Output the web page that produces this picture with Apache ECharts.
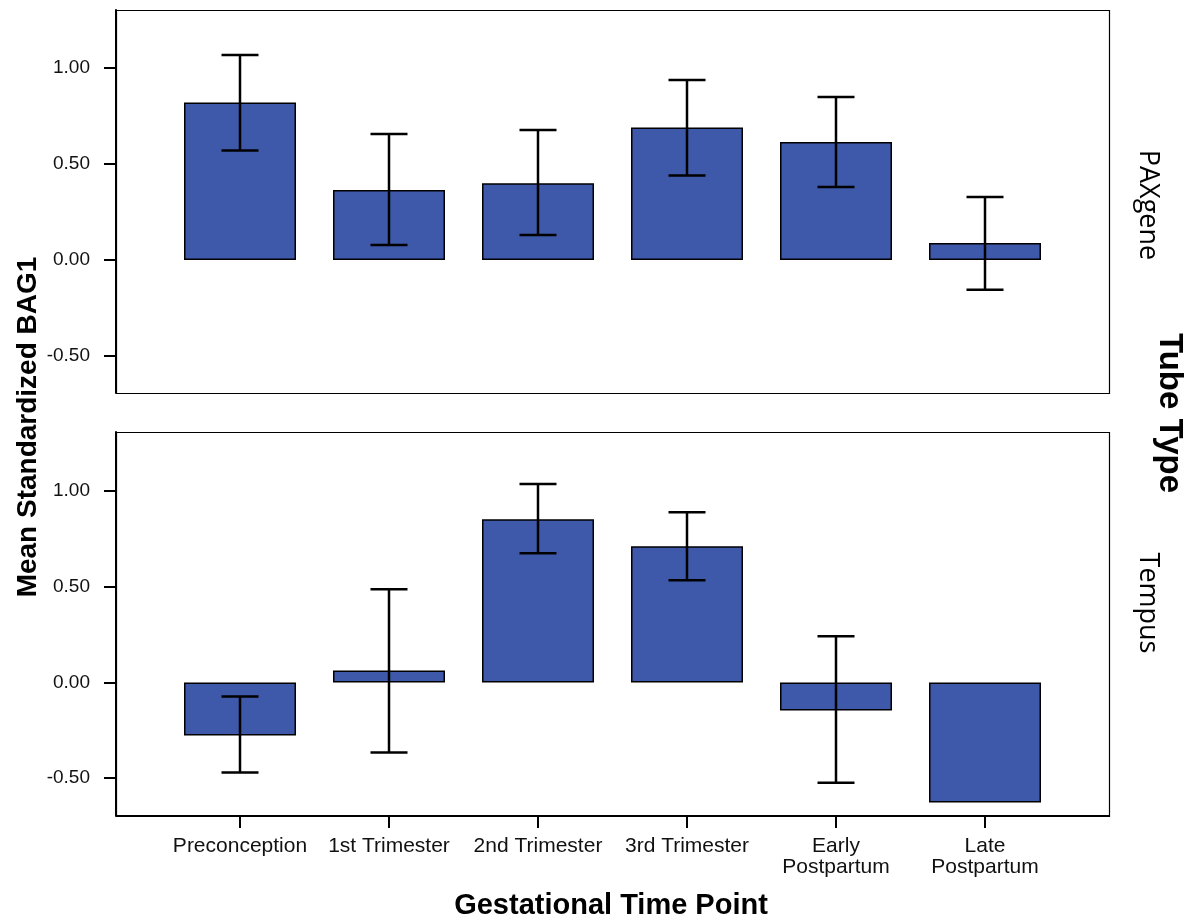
<!DOCTYPE html>
<html>
<head>
<meta charset="utf-8">
<script src="https://cdn.jsdelivr.net/npm/echarts@6/dist/echarts.min.js"></script>
<style>
html,body{margin:0;padding:0;background:#fff;}
#chart{width:1187px;height:917px;}
</style>
</head>
<body>
<div id="chart"></div>
<script>
// ---- data ----
const categories = ['Preconception', '1st Trimester', '2nd Trimester', '3rd Trimester', 'Early\nPostpartum', 'Late\nPostpartum'];
const paxMean = [0.82, 0.365, 0.40, 0.69, 0.615, 0.088];
const paxLow = [0.57, 0.078, 0.13, 0.44, 0.38, -0.155];
const paxHigh = [1.068, 0.656, 0.677, 0.937, 0.849, 0.328];
const tempusMean = [-0.277, 0.063, 0.853, 0.712, -0.147, -0.628];
const tempusLow = [-0.471, -0.366, 0.675, 0.534, -0.524, null];
const tempusHigh = [-0.073, 0.487, 1.037, 0.89, 0.241, null];
const yTicks = [-0.5, 0, 0.5, 1.0];
const panelNames = ['PAXgene', 'Tempus'];
const xTitle = 'Gestational Time Point';
const yTitle = 'Mean Standardized BAG1';
const facetTitle = 'Tube Type';

// ---- layout ----
const frameLeft = 116, frameRight = 1109;
const panels = [{top: 10, bottom: 393}, {top: 432, bottom: 816}];
const inset = 49.5;
const FONT = 'Liberation Sans, Arial, sans-serif';

function errData(lo, hi) {
  const out = [];
  lo.forEach((v, i) => { if (v !== null && hi[i] !== null) out.push([i, v, hi[i]]); });
  return out;
}
function renderErr(params, api) {
  const x = api.value(0);
  const p1 = api.coord([x, api.value(1)]);
  const p2 = api.coord([x, api.value(2)]);
  const hw = 18.5;
  const st = {stroke: '#000', lineWidth: 2.5};
  return {type: 'group', children: [
    {type: 'line', shape: {x1: p1[0], y1: p1[1], x2: p2[0], y2: p2[1]}, style: st},
    {type: 'line', shape: {x1: p1[0] - hw, y1: p1[1], x2: p1[0] + hw, y2: p1[1]}, style: st},
    {type: 'line', shape: {x1: p2[0] - hw, y1: p2[1], x2: p2[0] + hw, y2: p2[1]}, style: st}
  ]};
}

const grids = panels.map(p => ({
  left: frameLeft + inset,
  width: (frameRight - frameLeft) - 2 * inset,
  top: p.top,
  height: p.bottom - p.top
}));

const yRanges = [[-0.693, 1.302], [-0.698, 1.309]];

const xAxes = [0, 1].map(i => ({
  gridIndex: i,
  type: 'category',
  data: categories,
  boundaryGap: true,
  show: i === 1,
  position: 'bottom',
  axisLine: {show: false, onZero: false},
  axisTick: {show: true, alignWithLabel: true, length: 12, lineStyle: {color: '#000', width: 2}},
  axisLabel: {fontSize: 21, color: '#111', fontFamily: FONT, margin: 20, lineHeight: 21, verticalAlign: 'top', interval: 0},
  splitLine: {show: false}
}));

const yAxes = [0, 1].map(i => ({
  gridIndex: i,
  type: 'value',
  min: yRanges[i][0],
  max: yRanges[i][1],
  offset: inset,
  axisLine: {show: true, lineStyle: {color: '#000', width: 2}},
  axisTick: {show: true, length: 12, customValues: yTicks, lineStyle: {color: '#000', width: 2}},
  axisLabel: {customValues: yTicks, formatter: v => v.toFixed(2), fontSize: 19, color: '#111', fontFamily: FONT, margin: 26},
  splitLine: {show: false}
}));

const barStyle = {color: '#3E58AA', borderColor: '#000', borderWidth: 1.5};

const series = [
  {type: 'bar', xAxisIndex: 0, yAxisIndex: 0, data: paxMean, barWidth: 112, itemStyle: barStyle, z: 2},
  {type: 'bar', xAxisIndex: 1, yAxisIndex: 1, data: tempusMean, barWidth: 112, itemStyle: barStyle, z: 2},
  {type: 'custom', xAxisIndex: 0, yAxisIndex: 0, data: errData(paxLow, paxHigh), renderItem: renderErr, encode: {x: 0, y: [1, 2]}, z: 5},
  {type: 'custom', xAxisIndex: 1, yAxisIndex: 1, data: errData(tempusLow, tempusHigh), renderItem: renderErr, encode: {x: 0, y: [1, 2]}, z: 5}
];

const graphics = [];
panels.forEach(p => {
  graphics.push({type: 'rect', z: 10, silent: true,
    shape: {x: frameLeft + 0.5, y: p.top + 0.5, width: frameRight - frameLeft, height: p.bottom - p.top},
    style: {fill: 'none', stroke: '#000', lineWidth: 1.2}});
});
graphics.push({type: 'line', z: 10, silent: true,
  shape: {x1: frameLeft, y1: panels[1].bottom, x2: frameRight + 0.5, y2: panels[1].bottom},
  style: {stroke: '#000', lineWidth: 2}});
// titles
graphics.push({type: 'text', z: 20, x: 611, y: 906,
  style: {text: xTitle, font: 'bold 29px ' + FONT, fill: '#000', align: 'center', verticalAlign: 'middle'}});
graphics.push({type: 'text', z: 20, x: 28, y: 427, rotation: Math.PI / 2,
  style: {text: yTitle, font: 'bold 28px ' + FONT, fill: '#000', align: 'center', verticalAlign: 'middle'}});
graphics.push({type: 'text', z: 20, x: 1169, y: 413, rotation: -Math.PI / 2,
  style: {text: facetTitle, font: 'bold 33px ' + FONT, fill: '#000', align: 'center', verticalAlign: 'middle'}});
const panelLabelY = [205, 603];
panelNames.forEach((n, i) => {
  graphics.push({type: 'text', z: 20, x: 1148, y: panelLabelY[i], rotation: -Math.PI / 2,
    style: {text: n, font: '27px "Open Sans", sans-serif', fill: '#000', align: 'center', verticalAlign: 'middle'}});
});

const chart = echarts.init(document.getElementById('chart'), null, {renderer: 'canvas'});
chart.setOption({
  animation: false,
  backgroundColor: '#fff',
  grid: grids,
  xAxis: xAxes,
  yAxis: yAxes,
  series: series,
  graphic: graphics
});
</script>
</body>
</html>
